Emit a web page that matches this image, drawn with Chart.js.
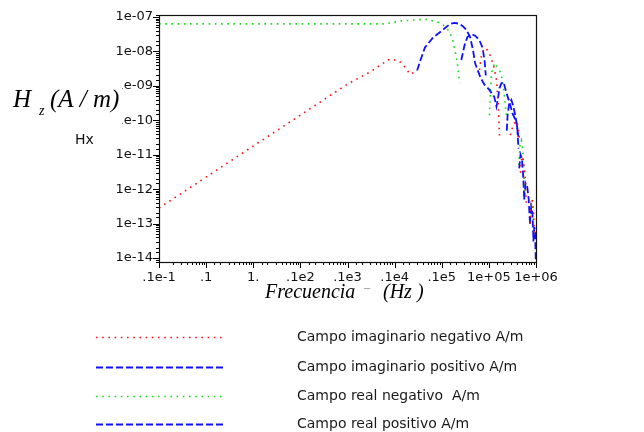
<!DOCTYPE html>
<html><head><meta charset="utf-8">
<script src="https://cdn.jsdelivr.net/npm/chart.js@4/dist/chart.umd.min.js"></script>
<style>html,body{margin:0;padding:0;background:#fff}#wrap{width:644px;height:432px;position:relative}</style>
</head><body><div id="wrap"><canvas id="c" width="644" height="432"></canvas></div>
<script>
// ---- data ----
const seriesLabels = ['Campo imaginario negativo A/m', 'Campo imaginario positivo A/m', 'Campo real negativo  A/m', 'Campo real positivo A/m'];

const imagNegFreq = [0.01, 0.1, 1, 10, 100, 316, 562, 794, 1259, 1778, 2089, 2700, 30000,
  63000, 70000, 81000, 93000, 108000, 125000, 145000, 160000, 168000, 200000,
  286000, 330000, 385000, 420000, 445000, 460000,
  470000, 500000, 540000, 590000, 620000, 680000,
  750000, 800000, 840000, 890000, 920000];
const imagNegVal = [2.82e-13, 2.24e-12, 1.78e-11, 1.41e-10, 1.12e-9, 2.63e-9, 4.47e-9, 6.03e-9, 5.25e-9, 3.16e-9, 2.19e-9, 2.5e-9, null,
  2.9e-9, 7.9e-9, 1.25e-8, 1.1e-8, 7.3e-9, 4e-9, 1.5e-9, 2e-10, 3.3e-11, null,
  3.7e-11, 7.7e-11, 9.5e-11, 6.3e-11, 2.7e-11, null,
  3e-12, 9e-12, 7e-12, 2e-12, 4e-13, null,
  1e-13, 4e-13, 5e-13, 2e-13, 4e-14];

const imagPosFreq = [3000, 3550, 4400, 6500, 10500, 15000, 18500, 23000, 27500, 33000, 40000, 46000, 51000, 60000, 67000, 80000, 100000, 130000, 145000, 155000, 168000, 185000, 204000, 236000, 273000, 316000, 385000, 424000, 432000,
  440000, 470000, 500000, 530000, 560000, 650000,
  740000, 790000, 840000, 880000];
const imagPosVal = [2.8e-9, 5.6e-9, 1.3e-8, 2.5e-8, 4.2e-8, 6.3e-8, 6.7e-8, 6.4e-8, 5.5e-8, 4.3e-8, 2.6e-8, 1.1e-8, 4.5e-9, 2.5e-9, 1.7e-9, 1.1e-9, 8e-10, 4.8e-10, 2.5e-10, 4e-10, 8.6e-10, 1.2e-9, 1.29e-9, 6.2e-10, 3.4e-10, 1.6e-10, 8.8e-11, 3.3e-11, null,
  4e-12, 1e-11, 8e-12, 3e-12, 6e-13, null,
  1e-13, 3e-13, 2e-13, 4e-14];

const realNegFreq = [0.01, 0.1, 1, 10, 100, 630, 1300, 3000, 4800, 8000, 10500, 13000, 15000, 17000, 18500, 21000, 24000, 60000,
  103000, 108000, 114000, 131000, 168000, 194000, 214000, 236000, 300000,
  430000, 460000, 490000, 520000, 550000, 570000, 650000,
  750000, 780000, 820000, 860000, 890000];
const realNegVal = [6.3e-8, 6.3e-8, 6.3e-8, 6.3e-8, 6.3e-8, 6.3e-8, 7.6e-8, 8.3e-8, 8.5e-8, 7.2e-8, 6e-8, 4.6e-8, 3.4e-8, 2.2e-8, 1.3e-8, 5.6e-9, 1.2e-9, null,
  1.4e-10, 7.5e-10, 2.4e-9, 4.6e-9, 2.9e-9, 1.5e-9, 4.8e-10, 1.25e-10, null,
  5e-12, 2e-11, 2.6e-11, 1.5e-11, 4e-12, 8e-13, null,
  1e-13, 4e-13, 5e-13, 2.5e-13, 4e-14];

const realPosFreq = [26000, 30400, 35000, 43000, 52000, 63000, 73000, 81000, 86000, 150000,
  240000, 250000, 270000, 300000, 330000, 370000, 400000, 425000, 500000,
  560000, 600000, 650000, 700000, 740000, 820000,
  880000, 920000, 960000, 1000000];
const realPosVal = [5.6e-9, 1.5e-8, 2.6e-8, 3.2e-8, 2.8e-8, 2.1e-8, 1.3e-8, 5.6e-9, 2e-9, null,
  5e-11, 1.5e-10, 3e-10, 3.9e-10, 2.6e-10, 1.2e-10, 6e-11, 1.5e-11, null,
  5e-13, 1.5e-12, 1.2e-12, 5e-13, 1.2e-13, null,
  3e-14, 8e-14, 5e-14, 4e-15];

const xTickValues = [0.01, 0.1, 1, 10, 100, 1000, 10000, 100000, 1000000];
const xTickLabels = ['.1e-1', '.1', '1.', '.1e2', '.1e3', '.1e4', '.1e5', '1e+05', '1e+06'];
const yTickValues = [1e-14, 1e-13, 1e-12, 1e-11, 1e-10, 1e-9, 1e-8, 1e-7];
const yTickLabels = ['1e-14', '1e-13', '1e-12', '1e-11', '1e-10', '1e-09', '1e-08', '1e-07'];

// ---- helpers ----
function pts(fs, vs) { return fs.map((f, i) => ({x: f, y: vs[i]})); }
function labelFor(v, vals, labs) {
  for (let i = 0; i < vals.length; i++) {
    if (Math.abs(Math.log10(v) - Math.log10(vals[i])) < 1e-6) return labs[i];
  }
  return '';
}
function isDecade(v) { const l = Math.log10(v); return Math.abs(l - Math.round(l)) < 1e-6; }

const RED = '#ff1010', BLUE = '#1010ff', GREEN = '#10e010';

const framePlugin = {
  id: 'frame',
  afterDraw(chart) {
    const ctx = chart.ctx, a = chart.chartArea;
    ctx.save();
    // tick marks
    ctx.strokeStyle = '#000'; ctx.lineWidth = 1;
    const xs = chart.scales.x, ys = chart.scales.y;
    xs.ticks.forEach(t => {
      const p = Math.round(xs.getPixelForValue(t.value)) + 0.5;
      if (p < a.left - 1 || p > a.right + 1) return;
      const L = isDecade(t.value) ? 6 : 3;
      ctx.beginPath(); ctx.moveTo(p, a.bottom); ctx.lineTo(p, a.bottom + L); ctx.stroke();
    });
    ys.ticks.forEach(t => {
      const p = Math.round(ys.getPixelForValue(t.value)) + 0.5;
      if (p < a.top - 1 || p > a.bottom + 1) return;
      const L = isDecade(t.value) ? 6 : 3;
      ctx.beginPath(); ctx.moveTo(a.left, p); ctx.lineTo(a.left - L, p); ctx.stroke();
    });
    // frame
    ctx.strokeStyle = '#111'; ctx.lineWidth = 1.2;
    ctx.strokeRect(a.left + 0.5, a.top + 0.5, a.right - a.left, a.bottom - a.top);

    // y title with white background (hides part of two tick labels as in the reference)
    ctx.fillStyle = '#fff';
    ctx.fillRect(8, 78, 114, 48);
    ctx.fillStyle = '#000';
    ctx.textBaseline = 'alphabetic'; ctx.textAlign = 'left';
    ctx.font = "italic 25px 'Liberation Serif'";
    ctx.fillText('H', 13, 107);
    ctx.font = "italic 14px 'Liberation Serif'";
    ctx.fillText('z', 39, 115);
    ctx.font = "italic 25px 'Liberation Serif'";
    ctx.fillText('(A / m)', 50, 107);
    ctx.font = "14px 'DejaVu Sans'";
    ctx.fillStyle = '#111';
    ctx.fillText('Hx', 75, 144);

    // x title
    ctx.fillStyle = '#000';
    ctx.font = "italic 20px 'Liberation Serif'";
    ctx.fillText('Frecuencia', 265, 298);
    ctx.fillText('(Hz )', 383, 298);
    ctx.fillStyle = '#999';
    ctx.font = "10px 'DejaVu Sans'";
    ctx.fillText('\u2212', 363, 292);

    // legend
    const rows = [337, 367, 396, 424];
    chart.data.datasets.forEach((ds, i) => {
      const y = rows[i] + 0.5;
      ctx.strokeStyle = ds.borderColor; ctx.lineWidth = ds.borderWidth;
      ctx.setLineDash(ds.borderDash || []);
      ctx.beginPath(); ctx.moveTo(96, y); ctx.lineTo(223, y); ctx.stroke();
      ctx.setLineDash([]);
      ctx.fillStyle = '#1a1a1a';
      ctx.font = "14px 'DejaVu Sans'";
      ctx.textBaseline = 'middle';
      ctx.fillText(ds.label, 297, rows[i]);
    });
    ctx.restore();
  }
};

new Chart(document.getElementById('c'), {
  type: 'line',
  data: {
    datasets: [
      {label: seriesLabels[0], data: pts(imagNegFreq, imagNegVal), borderColor: RED, borderWidth: 1.6, borderDash: [1.6, 4.6]},
      {label: seriesLabels[1], data: pts(imagPosFreq, imagPosVal), borderColor: BLUE, borderWidth: 1.8, borderDash: [7, 3]},
      {label: seriesLabels[2], data: pts(realNegFreq, realNegVal), borderColor: GREEN, borderWidth: 1.6, borderDash: [1.6, 4.6]},
      {label: seriesLabels[3], data: pts(realPosFreq, realPosVal), borderColor: BLUE, borderWidth: 1.8, borderDash: [7, 3]}
    ]
  },
  options: {
    responsive: false,
    animation: false,
    events: [],
    spanGaps: false,
    elements: {point: {radius: 0}, line: {tension: 0, fill: false}},
    layout: {padding: {left: 0, right: 108, top: 15, bottom: 0}},
    plugins: {legend: {display: false}, tooltip: {enabled: false}, title: {display: false}},
    scales: {
      x: {
        type: 'logarithmic', min: 0.01, max: 1000000,
        border: {display: false},
        grid: {display: false, drawTicks: false},
        ticks: {
          autoSkip: false, maxRotation: 0, minRotation: 0, padding: 8,
          color: '#111', font: {family: 'DejaVu Sans', size: 13},
          callback: (v) => labelFor(v, xTickValues, xTickLabels)
        },
        afterFit: (s) => { s.height = 170; }
      },
      y: {
        type: 'logarithmic', min: 7.65e-15, max: 1.14e-7,
        border: {display: false},
        grid: {display: false, drawTicks: false},
        ticks: {
          autoSkip: false, padding: 6,
          color: '#111', font: {family: 'DejaVu Sans', size: 13},
          callback: (v) => labelFor(v, yTickValues, yTickLabels)
        },
        afterFit: (s) => { s.width = 159; }
      }
    }
  },
  plugins: [framePlugin]
});
</script>
</body></html>
